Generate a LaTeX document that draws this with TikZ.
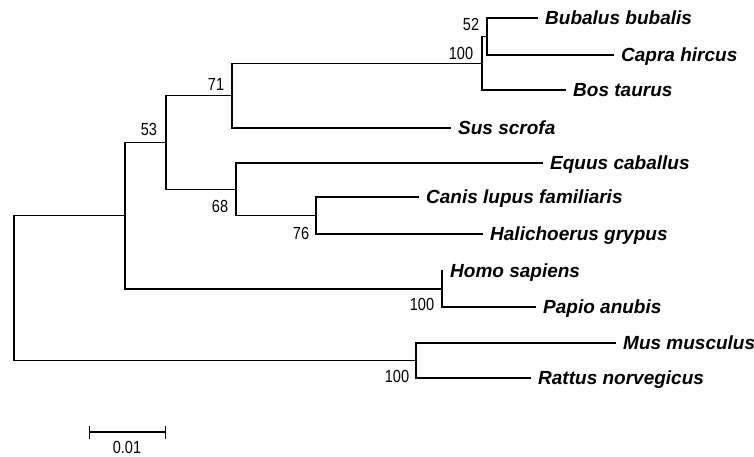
\documentclass[tikz,border=0pt]{standalone}
\usepackage{fontspec}
\setmainfont{Liberation Sans}
\newfontfamily\numfont[FakeStretch=0.83]{Liberation Sans}
\usetikzlibrary{arrows.meta}
\tikzset{
  branch/.style={draw=black, line width=1.3pt, line cap=rect},
  leaf/.style={anchor=west, inner xsep=8pt, inner ysep=0pt, text height=13.6pt, text depth=0pt,
    font=\fontsize{19}{22}\selectfont\bfseries\itshape},
  boot/.style={inner sep=0pt, font=\numfont\fontsize{17.5}{20}\selectfont},
}
\begin{document}
\begin{tikzpicture}[x=1pt,y=-1pt]
\useasboundingbox (0,0) rectangle (754,456);
% internal nodes
\coordinate (n52) at (487,36.5);
\coordinate (nbov) at (482,63.25);
\coordinate (n71) at (232,95.6);
\coordinate (n76) at (316,215.5);
\coordinate (n68) at (236,189.3);
\coordinate (n53) at (166,142.4);
\coordinate (nA) at (125,215.7);
\coordinate (nprim) at (442,289);
\coordinate (nrod) at (416,360.5);
\coordinate (root) at (14,288);
% leaves
\node[leaf] (bub) at (537,18) {Bubalus bubalis};
\node[leaf] (cap) at (613,55) {Capra hircus};
\node[leaf] (bos) at (565,90) {Bos taurus};
\node[leaf] (sus) at (450,128) {Sus scrofa};
\node[leaf] (equ) at (542,163) {Equus caballus};
\node[leaf] (can) at (418,197) {Canis lupus familiaris};
\node[leaf] (hal) at (482,234) {Halichoerus grypus};
\node[leaf] (hom) at (442,271) {Homo sapiens};
\node[leaf] (pap) at (535,307) {Papio anubis};
\node[leaf] (mus) at (615,343) {Mus musculus};
\node[leaf] (rat) at (530,378) {Rattus norvegicus};
% branches
\draw[branch] (n52) |- (bub.west);
\draw[branch] (n52) |- (cap.west);
\draw[branch] (nbov) |- (n52);
\draw[branch] (nbov) |- (bos.west);
\draw[branch] (n71) |- (nbov);
\draw[branch] (n71) |- (sus.west);
\draw[branch] (n76) |- (can.west);
\draw[branch] (n76) |- (hal.west);
\draw[branch] (n68) |- (equ.west);
\draw[branch] (n68) |- (n76);
\draw[branch] (n53) |- (n71);
\draw[branch] (n53) |- (n68);
\draw[branch] (nA) |- (n53);
\draw[branch] (nA) |- (nprim);
\draw[branch] (nprim) |- (hom.west);
\draw[branch] (nprim) |- (pap.west);
\draw[branch] (nrod) |- (mus.west);
\draw[branch] (nrod) |- (rat.west);
\draw[branch] (root) |- (nA);
\draw[branch] (root) |- (nrod);
% bootstrap values
\node[boot] (b52) at (471,24) {52};
\node[boot] (b100a) at (461,53) {100};
\node[boot] (b71) at (216,84) {71};
\node[boot] (b53) at (149,129) {53};
\node[boot] (b68) at (220,206) {68};
\node[boot] (b76) at (301,233) {76};
\node[boot] (b100b) at (422,304) {100};
\node[boot] (b100c) at (397,376) {100};
% scale bar
\coordinate (sb1) at (89,432);
\coordinate (sb2) at (166,432);
\draw[line width=1.3pt, {Bar[width=13pt]}-{Bar[width=13pt]}] (sb1) -- (sb2);
\node[boot] (sbl) at (127,447) {0.01};
\end{tikzpicture}
\end{document}
